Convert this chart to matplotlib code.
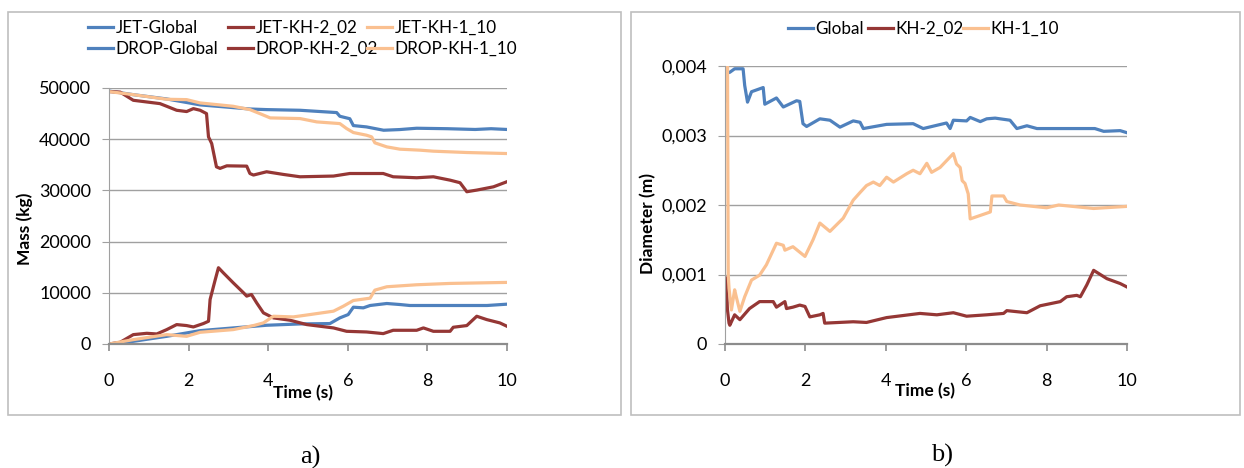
import matplotlib
matplotlib.use('Agg')
import matplotlib.pyplot as plt
from matplotlib.patches import Rectangle

# colours of the three model set-ups
BLUE = '#4F81BD'
RED = '#953735'
PEACH = '#FAC090'

# ---- a) mass of liquid jet / droplets (kg) ----
t_jet_global = [0, 0.61, 1.45, 2.29, 3.12, 3.54, 3.96, 4.8, 5.72, 5.8, 6.05, 6.14, 6.47, 6.9, 7.3, 7.73, 8.5, 9.2, 9.6, 10]
m_jet_global = [49400, 48700, 47860, 46700, 46170, 45900, 45780, 45650, 45200, 44480, 44000, 42660, 42400, 41750, 41880, 42140, 42050, 41900, 42050, 41900]

t_jet_kh1 = [0, 0.61, 1.45, 1.95, 2.29, 3.12, 3.54, 3.79, 4.05, 4.8, 5.22, 5.8, 5.97, 6.14, 6.47, 6.6, 6.68, 6.98, 7.31, 7.81, 8.15, 8.99, 10]
m_jet_kh1 = [49300, 48700, 47800, 47730, 47080, 46430, 45780, 45000, 44160, 44030, 43380, 43050, 42080, 41300, 40780, 40450, 39290, 38500, 38050, 37860, 37660, 37400, 37200]

t_jet_kh2 = [0, 0.28, 0.61, 0.95, 1.28, 1.45, 1.7, 1.95, 2.12, 2.29, 2.45, 2.5, 2.58, 2.7, 2.79, 2.96, 3.46, 3.54, 3.63, 3.96, 4.38, 4.8, 5.64, 6.05, 6.89, 7.14, 7.73, 8.15, 8.57, 8.82, 8.99, 9.24, 9.66, 10]
m_jet_kh2 = [49300, 49200, 47600, 47270, 46950, 46430, 45650, 45400, 45970, 45650, 45000, 40450, 39160, 34600, 34300, 34800, 34740, 33300, 33000, 33640, 33120, 32660, 32800, 33300, 33300, 32660, 32470, 32660, 32000, 31500, 29740, 30060, 30700, 31700]

t_drop_global = [0, 0.61, 1.45, 2.29, 3.12, 3.96, 4.8, 5.55, 5.8, 6.01, 6.14, 6.39, 6.56, 6.98, 7.31, 7.56, 8.5, 9.5, 10]
m_drop_global = [0, 520, 1500, 2610, 3140, 3660, 3920, 3990, 5100, 5750, 7190, 7060, 7520, 7910, 7710, 7520, 7520, 7520, 7780]

t_drop_kh1 = [0, 0.61, 1.45, 1.95, 2.29, 3.12, 3.63, 3.88, 4.13, 4.63, 5.05, 5.64, 5.89, 6.14, 6.56, 6.68, 6.98, 7.73, 8.57, 10]
m_drop_kh1 = [0, 850, 1830, 1500, 2290, 2810, 3600, 4120, 5420, 5290, 5750, 6410, 7390, 8500, 8950, 10520, 11180, 11570, 11830, 12030]

t_drop_kh2 = [0, 0.28, 0.61, 0.95, 1.2, 1.45, 1.7, 1.95, 2.12, 2.37, 2.5, 2.54, 2.66, 2.75, 2.87, 3.12, 3.38, 3.46, 3.58, 3.71, 3.88, 4.13, 4.55, 4.97, 5.64, 5.97, 6.47, 6.89, 7.14, 7.73, 7.9, 8.15, 8.57, 8.65, 8.99, 9.24, 9.49, 9.82, 10]
m_drop_kh2 = [0, 330, 1830, 2090, 1960, 2810, 3790, 3600, 3330, 3990, 4440, 8690, 12290, 14900, 13920, 11960, 10000, 9350, 9670, 8040, 6080, 5100, 4640, 3790, 3140, 2480, 2350, 2030, 2680, 2680, 3140, 2480, 2480, 3270, 3600, 5420, 4770, 4120, 3460]

# ---- b) mean droplet diameter (m) ----
t_d_global = [0, 0.02, 0.06, 0.12, 0.24, 0.45, 0.49, 0.56, 0.66, 0.95, 0.99, 1.28, 1.45, 1.78, 1.86, 1.94, 2.03, 2.36, 2.61, 2.86, 3.19, 3.36, 3.44, 4.02, 4.68, 4.93, 5.51, 5.6, 5.68, 6.01, 6.1, 6.35, 6.51, 6.72, 7.09, 7.26, 7.51, 7.76, 8.5, 9.2, 9.42, 9.83, 10]
d_global = [0.0035, 0.0042, 0.0039, 0.00391, 0.00396, 0.00396, 0.00372, 0.00348, 0.00363, 0.00369, 0.00345, 0.00354, 0.00341, 0.0035, 0.00349, 0.00317, 0.00313, 0.00324, 0.00322, 0.00312, 0.00321, 0.00319, 0.0031, 0.00316, 0.00317, 0.0031, 0.00318, 0.0031, 0.00322, 0.00321, 0.00326, 0.0032, 0.00324, 0.00325, 0.00322, 0.0031, 0.00314, 0.0031, 0.0031, 0.0031, 0.00306, 0.00307, 0.00304]

t_d_kh1 = [0.03, 0.06, 0.08, 0.1, 0.16, 0.24, 0.28, 0.37, 0.49, 0.66, 0.86, 1.03, 1.28, 1.45, 1.49, 1.69, 1.99, 2.19, 2.36, 2.61, 2.94, 3.19, 3.36, 3.52, 3.69, 3.85, 4.02, 4.19, 4.52, 4.68, 4.85, 5.02, 5.14, 5.35, 5.68, 5.76, 5.85, 5.9, 5.97, 6.05, 6.1, 6.6, 6.64, 6.93, 7.01, 7.34, 8.0, 8.3, 9.17, 10]
d_kh1 = [0.0046, 0.0045, 0.0010, 0.0008, 0.00049, 0.00078, 0.00068, 0.00047, 0.00068, 0.00092, 0.00099, 0.00114, 0.00145, 0.00142, 0.00135, 0.0014, 0.00126, 0.0015, 0.00174, 0.00162, 0.00181, 0.00207, 0.00218, 0.00228, 0.00233, 0.00228, 0.0024, 0.00233, 0.00245, 0.0025, 0.00245, 0.0026, 0.00247, 0.00254, 0.00274, 0.00259, 0.00254, 0.00235, 0.00231, 0.00216, 0.0018, 0.0019, 0.00213, 0.00213, 0.00205, 0.002, 0.00196, 0.002, 0.00195, 0.00198]

t_d_kh2 = [0.03, 0.06, 0.1, 0.12, 0.24, 0.37, 0.61, 0.86, 1.2, 1.28, 1.49, 1.53, 1.69, 1.86, 1.99, 2.11, 2.36, 2.44, 2.48, 3.19, 3.52, 4.02, 4.85, 5.27, 5.68, 6.01, 6.51, 6.93, 7.01, 7.51, 7.84, 8.34, 8.5, 8.75, 8.84, 9.0, 9.17, 9.5, 9.83, 10]
d_kh2 = [0.00095, 0.0005, 0.0003, 0.00027, 0.00042, 0.00035, 0.00051, 0.00061, 0.00061, 0.00053, 0.00061, 0.00051, 0.00053, 0.00056, 0.00054, 0.00039, 0.00042, 0.00044, 0.0003, 0.00032, 0.00031, 0.00038, 0.00044, 0.00042, 0.00045, 0.0004, 0.00042, 0.00044, 0.00048, 0.00045, 0.00055, 0.00061, 0.00068, 0.0007, 0.00068, 0.00085, 0.00106, 0.00094, 0.00087, 0.00082]

x_ticks = [0, 2, 4, 6, 8, 10]
mass_ticks = [0, 10000, 20000, 30000, 40000, 50000]
diam_ticks = [0, 0.001, 0.002, 0.003, 0.004]
diam_tick_labels = ['0', '0,001', '0,002', '0,003', '0,004']

plt.rcParams['font.family'] = ['Lato', 'DejaVu Sans']
plt.rcParams['font.size'] = 13

W, H = 1244, 468
fig = plt.figure(figsize=(W / 100, H / 100), dpi=100)

# chart frames
for x0, x1 in [(8, 621), (631, 1240)]:
    fig.patches.append(Rectangle((x0 / W, 1 - 415 / H), (x1 - x0) / W, 403 / H,
                                 transform=fig.transFigure, fill=False,
                                 edgecolor='#BFBFBF', lw=1.2))

ax1 = fig.add_axes([109 / W, 1 - 344 / H, 398 / W, 256 / H])
ax2 = fig.add_axes([725 / W, 1 - 344 / H, 402 / W, 278 / H])


def style(ax):
    ax.set_xlim(0, 10)
    ax.set_xticks(x_ticks)
    ax.grid(axis='y', color='#A0A0A0', lw=1)
    ax.set_axisbelow(True)
    for s in ['top', 'right']:
        ax.spines[s].set_visible(False)
    ax.spines['left'].set_color('#A0A0A0')
    ax.spines['bottom'].set_color('#8C8C8C')
    ax.spines['bottom'].set_linewidth(1.6)
    ax.tick_params(axis='x', length=5, color='#8C8C8C', width=1.2, pad=16)
    ax.tick_params(axis='y', length=5, color='#A0A0A0', pad=8)


def legend_column(handles, labels, x, y):
    # one legend per column so the columns sit at fixed spacing
    leg = fig.legend(handles, labels, loc='upper left', bbox_to_anchor=(x / W, 1 - y / H),
                     frameon=False, fontsize=12.3, handlelength=1.45, handletextpad=0.15,
                     labelspacing=0.3, borderpad=0, borderaxespad=0)
    return leg


lw = 2.3
l1, = ax1.plot(t_jet_global, m_jet_global, color=BLUE, lw=lw)
l2, = ax1.plot(t_drop_global, m_drop_global, color=BLUE, lw=lw)
l3, = ax1.plot(t_jet_kh2, m_jet_kh2, color=RED, lw=lw)
l4, = ax1.plot(t_drop_kh2, m_drop_kh2, color=RED, lw=lw)
l5, = ax1.plot(t_jet_kh1, m_jet_kh1, color=PEACH, lw=lw)
l6, = ax1.plot(t_drop_kh1, m_drop_kh1, color=PEACH, lw=lw)
ax1.set_ylim(0, 50000)
ax1.set_yticks(mass_ticks)
style(ax1)
ax1.set_ylabel('Mass (kg)', fontweight='bold', fontsize=12.5)
ax1.yaxis.set_label_coords(-0.19, 0.45)
ax1.set_xlabel('Time (s)', fontweight='bold', fontsize=12.5)
ax1.xaxis.set_label_coords(0.487, -0.16)

legend_column([l1, l2], ['JET-Global', 'DROP-Global'], 88, 20)
legend_column([l3, l4], ['JET-KH-2_02', 'DROP-KH-2_02'], 228, 20)
legend_column([l5, l6], ['JET-KH-1_10', 'DROP-KH-1_10'], 367, 20)

g1, = ax2.plot(t_d_global, d_global, color=BLUE, lw=lw)
g2, = ax2.plot(t_d_kh2, d_kh2, color=RED, lw=lw)
g3, = ax2.plot(t_d_kh1, d_kh1, color=PEACH, lw=lw)
ax2.set_ylim(0, 0.004)
ax2.set_yticks(diam_ticks)
ax2.set_yticklabels(diam_tick_labels)
style(ax2)
ax2.set_ylabel('Diameter (m)', fontweight='bold', fontsize=12.5)
ax2.yaxis.set_label_coords(-0.17, 0.435)
ax2.set_xlabel('Time (s)', fontweight='bold', fontsize=12.5)
ax2.xaxis.set_label_coords(0.497, -0.14)

legend_column([g1], ['Global'], 788, 21)
legend_column([g2], ['KH-2_02'], 868, 21)
legend_column([g3], ['KH-1_10'], 963, 21)

fig.text(310 / W, 1 - 457 / H, 'a)', family='Liberation Serif', fontsize=19,
         ha='center', va='center')
fig.text(942 / W, 1 - 455 / H, 'b)', family='Liberation Serif', fontsize=19,
         ha='center', va='center')

fig.savefig('out.png', dpi=100)
